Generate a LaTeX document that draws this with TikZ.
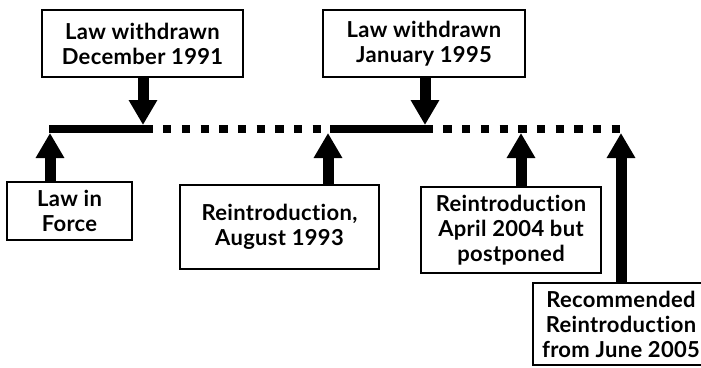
\documentclass[tikz,border=0pt]{standalone}
\usepackage{fontspec}
\setmainfont{Lato}[Ligatures=NoCommon,LetterSpace=1.5]
\usepackage{tikz}
\usetikzlibrary{arrows.meta}
\tikzstyle{event} = [rectangle,draw=black,line width=2.2pt,fill=white,inner sep=0pt,align=center,font=\bfseries\fontsize{22}{25}\selectfont]
\tikzstyle{bar} = [line width=8pt]
\tikzstyle{gapbar} = [line width=8pt,dash pattern=on 8.3pt off 10.4pt,dash phase=8.3pt]
\tikzstyle{arrow} = [line width=11pt,-{Triangle[width=27pt,length=25pt]}]

\begin{document}
\begin{tikzpicture}[x=1pt,y=-1pt]
\useasboundingbox (0,0) rectangle (701,367);
% timeline
\coordinate (t0) at (49,129);
\coordinate (t1) at (152.7,129);
\coordinate (t2) at (330,129);
\coordinate (t3) at (433,129);
\coordinate (t4) at (620,129);
\draw [bar] (t0) -- (t1);
\draw [gapbar] (t1) -- (t2);
\draw [bar] (t2) -- (t3);
\draw [gapbar] (t3) -- (t4);
% points where the arrows meet the line
\coordinate (in89) at (50,133);
\coordinate (out91) at (143,125);
\coordinate (in93) at (328,133);
\coordinate (out95) at (425,125);
\coordinate (in04) at (521,133);
\coordinate (in05) at (621,133);

\node (wd91) [event,minimum width=201pt,minimum height=67pt] at (142.5,43.5) {Law withdrawn\\December 1991};
\node (wd95) [event,minimum width=202pt,minimum height=67pt] at (424,43.5) {Law withdrawn\\January 1995};
\node (force) [event,minimum width=125pt,minimum height=58pt] at (69.5,211) {Law in\\Force};
\node (re93) [event,minimum width=199pt,minimum height=84pt] at (279.5,227) {Reintroduction,\\August 1993};
\node (re04) [event,minimum width=180pt,minimum height=86pt] at (511,230) {Reintroduction\\April 2004 but\\postponed};
\node (re05) [event,minimum width=176pt,minimum height=82pt] at (621,324) {Recommended\\Reintroduction\\from June 2005};

\draw [arrow] (wd91.south -| out91) -- (out91);
\draw [arrow] (wd95.south -| out95) -- (out95);
\draw [arrow] (force.north -| in89) -- (in89);
\draw [arrow] (re93.north -| in93) -- (in93);
\draw [arrow] (re04.north -| in04) -- (in04);
\draw [arrow] (re05.north -| in05) -- (in05);

\end{tikzpicture}
\end{document}
